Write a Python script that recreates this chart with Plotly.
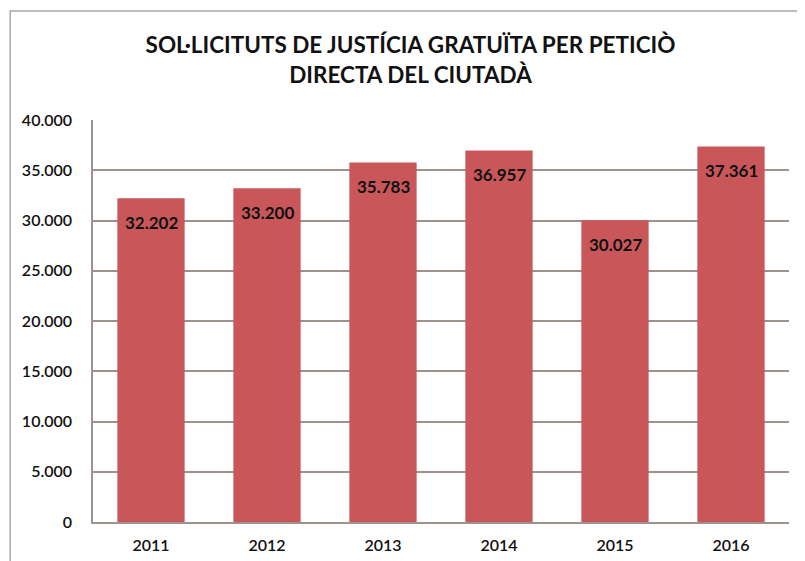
import plotly.graph_objects as go

years = ["2011", "2012", "2013", "2014", "2015", "2016"]
values = [32202, 33200, 35783, 36957, 30027, 37361]
labels = ["32.202", "33.200", "35.783", "36.957", "30.027", "37.361"]
tick_vals = [0, 5000, 10000, 15000, 20000, 25000, 30000, 35000, 40000]
tick_text = ["0", "5.000", "10.000", "15.000", "20.000", "25.000", "30.000", "35.000", "40.000"]

FONT = "Lato"

fig = go.Figure()
fig.add_trace(go.Bar(
    x=years, y=values,
    marker=dict(color="#C9575A", line=dict(width=0)),
    hoverinfo="skip",
))

for i, (v, t) in enumerate(zip(values, labels)):
    fig.add_annotation(x=i, y=v, text="<b>%s</b>" % t, showarrow=False,
                       yshift=-24, font=dict(family=FONT, size=17, color="#111111"))

# outer chart border
fig.add_shape(type="rect", xref="paper", yref="paper",
              x0=-0.119, x1=1.05, y0=-0.15, y1=1.271,
              line=dict(color="#a8a8a8", width=1.5), layer="below")

fig.update_layout(
    width=805, height=561,
    margin=dict(l=85, r=24, t=112, b=47),
    paper_bgcolor="white", plot_bgcolor="white",
    bargap=0.42,
    showlegend=False,
    title=dict(text="<b>SOL·LICITUTS DE JUSTÍCIA GRATUÏTA PER PETICIÒ<br>DIRECTA DEL CIUTADÀ</b>",
               x=0.5, xanchor="center", y=0.919, yanchor="middle",
               font=dict(family=FONT, size=22.5, color="#111111")),
    font=dict(family=FONT, color="#222222"),
)
fig.update_xaxes(type="category", range=[-0.5, 5.5], showline=True,
                 linecolor="#9e928e", linewidth=1.5,
                 tickfont=dict(family=FONT, size=16, color="#111111", weight=600),
                 ticks="", ticklabelstandoff=8)
fig.update_yaxes(range=[0, 40000], tickvals=tick_vals, ticktext=tick_text,
                 showgrid=True, gridcolor="#9e928e", gridwidth=1.5,
                 showline=True, linecolor="#9e928e", linewidth=1.5,
                 zeroline=False, ticks="", ticklabelstandoff=16,
                 tickfont=dict(family=FONT, size=16, color="#111111", weight=600))

fig.write_html("out.html")
